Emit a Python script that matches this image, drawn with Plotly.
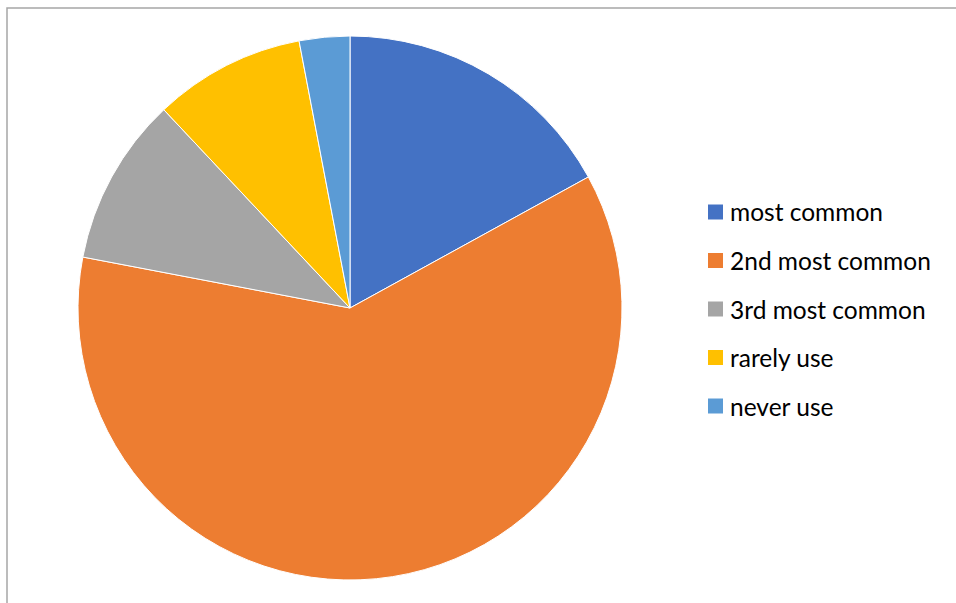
import plotly.graph_objects as go

# Usage shares by category
labels = ["most common", "2nd most common", "3rd most common", "rarely use", "never use"]
values = [17, 61, 10, 9, 3]
colors = ["#4472C4", "#ED7D31", "#A5A5A5", "#FFC000", "#5B9BD5"]

W, H = 956, 603
cx, cy, r = 350, 308, 272  # pie centre and radius in pixels (from top-left)

fig = go.Figure(
    go.Pie(
        labels=labels,
        values=values,
        sort=False,
        direction="clockwise",
        rotation=0,
        marker=dict(colors=colors, line=dict(color="white", width=1)),
        textinfo="none",
        hoverinfo="label+value+percent",
        showlegend=False,
        domain=dict(
            x=[(cx - r) / W, (cx + r) / W],
            y=[(H - cy - r) / H, (H - cy + r) / H],
        ),
    )
)

# Legend drawn as swatches + labels on the right
shapes = []
annotations = []
leg_x, leg_y0, leg_dy, sw = 708, 212, 48.5, 15
for i, (lab, col) in enumerate(zip(labels, colors)):
    y = leg_y0 + i * leg_dy
    shapes.append(dict(
        type="rect", xref="paper", yref="paper",
        x0=leg_x / W, x1=(leg_x + sw) / W,
        y0=(H - y - sw / 2) / H, y1=(H - y + sw / 2) / H,
        fillcolor=col, line=dict(width=0),
    ))
    annotations.append(dict(
        x=(leg_x + sw + 5) / W, y=(H - y) / H, xref="paper", yref="paper",
        text=lab, showarrow=False, xanchor="left", yanchor="middle",
        font=dict(family="Lato, Carlito, sans-serif", size=24.5, color="#000000"),
    ))

# Chart-area border (left and top edges visible in frame)
shapes.append(dict(
    type="rect", xref="paper", yref="paper",
    x0=7 / W, x1=1.05, y0=-0.05, y1=(H - 8) / H,
    line=dict(color="#A6A6A6", width=1.5), fillcolor="rgba(0,0,0,0)",
))

fig.update_layout(
    width=W, height=H,
    margin=dict(l=0, r=0, t=0, b=0),
    paper_bgcolor="white",
    plot_bgcolor="white",
    shapes=shapes,
    annotations=annotations,
)

fig.write_html("out.html")
